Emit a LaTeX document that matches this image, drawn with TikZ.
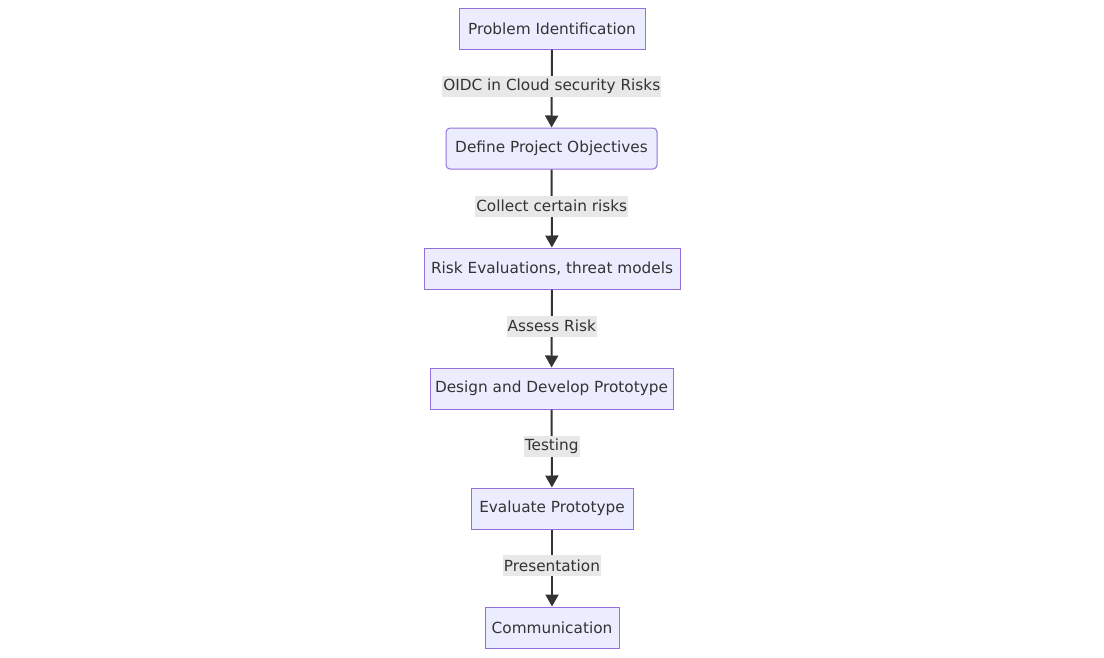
\documentclass[tikz,border=0pt]{standalone}
\usepackage{fontspec}
\setmainfont{DejaVu Sans}
\usetikzlibrary{arrows.meta}
\definecolor{nodefill}{HTML}{ECECFF}
\definecolor{nodeline}{HTML}{9370DB}
\definecolor{txt}{HTML}{333333}
\definecolor{lblbg}{HTML}{E8E8E8}
\begin{document}
\begin{tikzpicture}[x=1pt,y=-1pt,
  box/.style={draw=nodeline, fill=nodefill, line width=1pt, minimum height=41pt, inner sep=0pt, text=txt, font=\fontsize{15.3}{17}\selectfont},
  lbl/.style={fill=lblbg, text=txt, inner xsep=1pt, inner ysep=0pt, minimum height=21pt, font=\fontsize{15.3}{17}\selectfont, pos=0.468},
  conn/.style={draw=txt, line width=2pt, -{Triangle[length=12pt,width=13pt]}}]
\useasboundingbox (0,0) rectangle (1104,657);
\node[box, minimum width=186pt] (n1) at (552,28.5) {Problem Identification};
\node[box, minimum width=211pt, rounded corners=4pt] (n2) at (551.5,148.5) {Define Project Objectives};
\node[box, minimum width=256pt] (n3) at (552,268.5) {Risk Evaluations, threat models};
\node[box, minimum width=243pt] (n4) at (551.5,388.5) {Design and Develop Prototype};
\node[box, minimum width=162pt] (n5) at (552,508.5) {Evaluate Prototype};
\node[box, minimum width=134pt] (n6) at (552,627.5) {Communication};
\draw[conn] (n1) -- node[lbl] {OIDC in Cloud security Risks} (n2);
\draw[conn] (n2) -- node[lbl] {Collect certain risks} (n3);
\draw[conn] (n3) -- node[lbl] {Assess Risk} (n4);
\draw[conn] (n4) -- node[lbl] {Testing} (n5);
\draw[conn] (n5) -- node[lbl] {Presentation} (n6);
\end{tikzpicture}
\end{document}
